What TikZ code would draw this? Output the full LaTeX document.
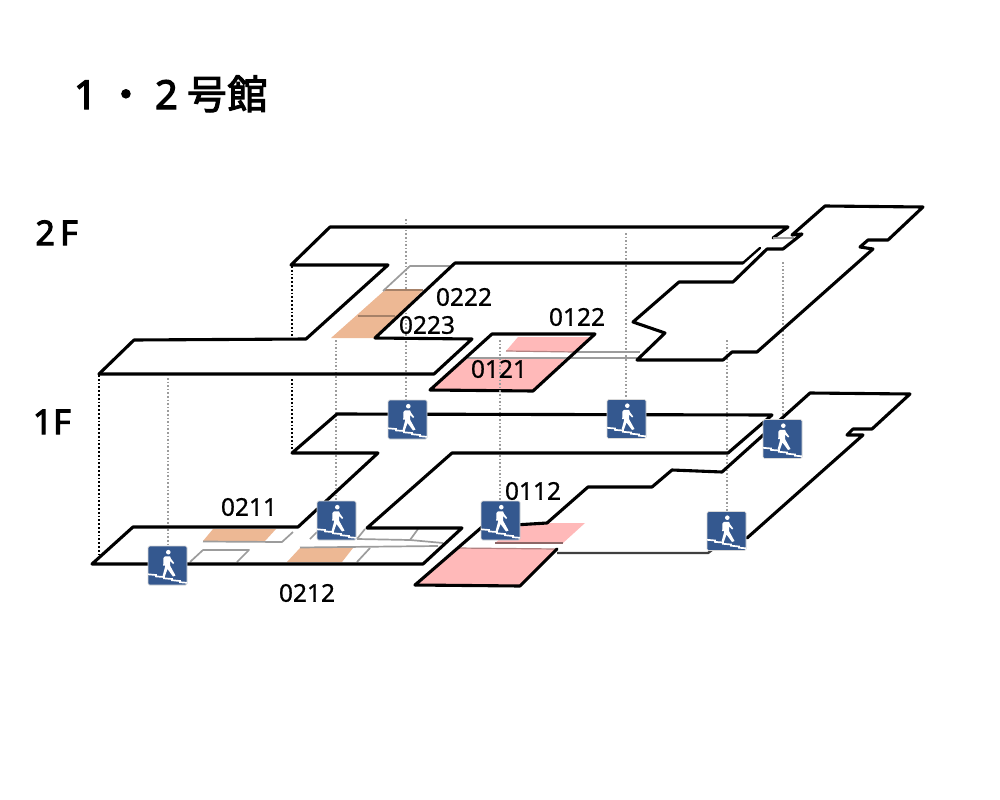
\documentclass[tikz,border=0pt]{standalone}
\usepackage{fontspec}
\setmainfont[FakeBold=0.8]{Noto Sans}
\newfontfamily\cjkfont[FakeBold=2.6]{Noto Sans CJK JP}
\newfontfamily\headfont[FakeBold=3]{Noto Sans}
\definecolor{iconblue}{HTML}{34588F}
\definecolor{peach}{HTML}{EDB894}
\definecolor{rosy}{HTML}{FFB9B9}
\definecolor{thin}{HTML}{9C9C9C}
\newcommand{\tbox}[1]{\makebox[40.5bp][c]{#1}}
\tikzset{
 x=1bp,y=-1bp,
 wall/.style={draw=black,line width=3.1bp,line join=round,line cap=round},
 partition/.style={draw=thin,line width=1.7bp,line join=round},
 guide/.style={draw=thin,line width=1.3bp,dash pattern=on 1.6bp off 2bp},
 blackguide/.style={draw=black,line width=1.9bp,dash pattern=on 1.8bp off 2bp},
 roomlabel/.style={font=\fontsize{24.5bp}{26bp}\selectfont,inner sep=0pt,text=black},
 floorlabel/.style={font=\headfont\fontsize{34bp}{36bp}\selectfont,inner sep=0pt,text=black,anchor=base west},
 pics/stair/.style={code={
  \fill[iconblue,draw=white!85!black,line width=.7bp,rounded corners=1.5bp] (0,0) rectangle (39,39);
  \fill[white] (20.3,6.2) circle (2.3);
  \fill[white] (15.5,12) -- (17,10.4) -- (22,10.4) -- (23.2,13) -- (26.2,17) -- (25,18) -- (22,14.8) -- (22,19.5) -- (27.5,29.5) -- (25,30.5) -- (19.5,23) -- (16.7,30.8) -- (14.6,30) -- (17.5,19) -- (17.2,15) -- (17,19.5) -- (15.2,19.5) -- cycle;
  \draw[white,line width=1.7bp,line join=miter] (0,28.3) -- (8,29) -- (8,30.4) -- (16,31) -- (16,32.3) -- (24,33) -- (24,34.2) -- (32,35) -- (32,36.2) -- (39,36.8);
 }}
}
\begin{document}
\begin{tikzpicture}
\useasboundingbox[fill=white] (0,0) rectangle (1000,800);

% guide lines
\draw[guide] (406,219) -- (406,400);
\draw[guide] (626,233) -- (626,400);
\draw[guide] (727,340) -- (727,512);
\draw[guide] (783,262) -- (783,420);
\draw[guide] (336,340) -- (336,501);
\draw[guide] (168,378) -- (168,546);
\draw[blackguide] (292,266) -- (292,339);
\draw[blackguide] (292,379) -- (292,451);
\draw[blackguide] (99,375) -- (99,555);

% 2F rooms
\fill[peach] (385,290) -- (423,290) -- (375,338) -- (331,338) -- cycle;
\draw[draw=peach!70!black,line width=1.4bp] (358,316) -- (395,316);
\draw[draw=peach!70!black,line width=1.4bp] (385,290) -- (423,290);
\draw[partition] (383,291) -- (410,266) -- (450,266);
\fill[rosy] (430,390) -- (533,390) -- (565,359) -- (467,359) -- cycle;
\fill[rosy] (518,337) -- (590,337) -- (575,352) -- (506,351) -- cycle;
\draw[draw=rosy!70!black,line width=1.2bp] (506,351) -- (575,352);
\draw[partition] (575,352) -- (640,352);
\draw[partition] (467,358) -- (637,358);

% 2F outlines
\draw[wall] (99,374) -- (134,340) -- (306,339) -- (388,265) -- (291,265) -- (330,227) -- (788,227) -- (773,238);
\draw[partition] (773,238) -- (794,238);
\draw[wall] (743,263) -- (455,263) -- (375,338) -- (472,339) -- (434,374) -- (99,374);
\draw[wall,line width=2.4bp] (743,263) -- (760,248);
\draw[wall] (430,390) -- (492,334) -- (595,334) -- (533,391) -- cycle;
\draw[wall] (792,235) -- (825,206) -- (923,207) -- (888,240) -- (868,240) -- (860,247) -- (873,249) -- (757,352) -- (732,352) -- (723,360) -- (637,360) -- (665,333) -- (633,322) -- (679,282) -- (733,282) -- (767,249) -- (783,249) -- (802,234) -- cycle;

% 1F rooms
\fill[peach] (203,541) -- (265,541) -- (276,529) -- (213,529) -- cycle;
\fill[peach] (287,562) -- (300,548) -- (353,548) -- (342,562) -- cycle;
\draw[partition] (203,541.5) -- (282,542) -- (293,532);
\draw[partition] (190,562) -- (203,550) -- (249,550) -- (237,562);
\draw[partition] (300,547.5) -- (438,546);
\draw[partition] (357,562) -- (370,548);
\draw[partition] (310,539) -- (317,532);
\draw[partition] (357,539) -- (410,540) -- (443,543);
\draw[partition] (357,539) -- (365,529);
\draw[partition] (410,540) -- (418,529);
\fill[rosy] (415,585) -- (520,586) -- (557,549) -- (457,548) -- cycle;
\fill[rosy] (495,543) -- (563,543) -- (585,523) -- (520,523) -- cycle;
\draw[draw=rosy!55!black,line width=1.4bp] (495,543) -- (563,543);
\draw[draw=rosy!70!black,line width=1.2bp] (457,548) -- (557,549);
\draw[guide] (500,340) -- (500,501);

% 1F outlines
\draw[wall] (92,564) -- (133,527) -- (298,527) -- (378,453) -- (292,453) -- (337,414) -- (772,415) -- (728,453) -- (452,453) -- (367,528) -- (462,528) -- (423,564) -- cycle;
\draw[wall] (415,585) -- (482,527) -- (547,523) -- (588,487) -- (652,487) -- (672,470) -- (722,472) -- (810,393) -- (910,394) -- (872,429) -- (853,429) -- (847,435) -- (863,435) -- (747,538);
\draw[wall] (415,585) -- (520,586) -- (557,549);
\draw[draw=black!75,line width=2.4bp] (557,553) -- (708,553) -- (725,540);

% labels
\node[roomlabel] (r0222) at (464,297) {0222};
\node[roomlabel] (r0223) at (427,325) {0223};
\node[roomlabel] (r0122) at (577,317) {0122};
\node[roomlabel] (r0121) at (499,369) {0121};
\node[roomlabel] (r0112) at (533,491) {0112};
\node[roomlabel] (r0211) at (249,507) {0211};
\node[roomlabel] (r0212) at (307,593) {0212};

% icons
\pic at (388,400) {stair};
\pic at (607,399.5) {stair};
\pic at (763,419.5) {stair};
\pic at (707,511.5) {stair};
\pic at (481,501) {stair};
\pic at (317,501) {stair};
\pic at (148,546) {stair};

% headings
\node[floorlabel,font=\headfont\fontsize{40bp}{42bp}\selectfont] (title) at (65,109) {\tbox{1}\tbox{\cjkfont ・}\tbox{2}\tbox{\cjkfont 号}\tbox{\cjkfont 館}};
\node[floorlabel] (f2) at (30,245) {\makebox[30bp][c]{2}F};
\node[floorlabel] (f1) at (32,434) {\makebox[21bp][c]{1}F};
\end{tikzpicture}
\end{document}
